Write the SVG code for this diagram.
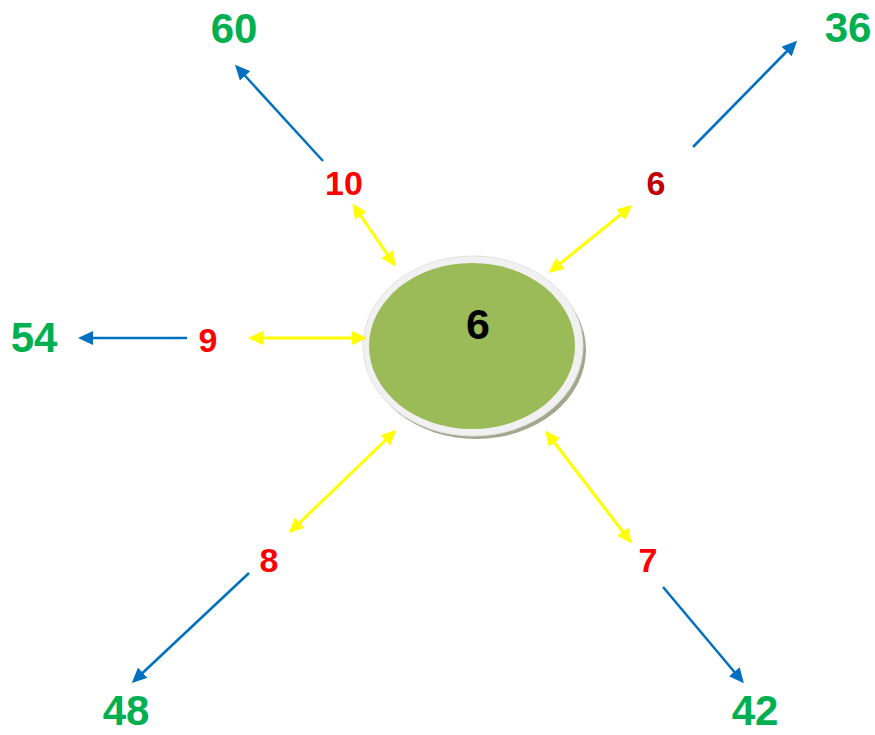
<svg xmlns="http://www.w3.org/2000/svg" width="875" height="735" viewBox="0 0 875 735">
  <style>
    text { font-family: "Liberation Sans", Arial, sans-serif; font-weight: bold; text-anchor: middle; }
    .product { fill: #00b050; font-size: 42px; }
    .factor { fill: #ff0000; font-size: 34px; }
    .factor-dark { fill: #c00000; font-size: 34px; }
    .center { fill: #000000; font-size: 43px; }
    .blue { stroke: #0070c0; stroke-width: 2.5; fill: none; marker-end: url(#blueHead); }
    .yellow { stroke: #ffff00; stroke-width: 3; fill: none; marker-start: url(#yellowHead); marker-end: url(#yellowHead); }
  </style>
  <defs>
    <marker id="blueHead" markerUnits="userSpaceOnUse" markerWidth="16" markerHeight="14" refX="12" refY="7" orient="auto-start-reverse">
      <path d="M0,0 L15,7 L0,14 z" fill="#0070c0"/>
    </marker>
    <marker id="yellowHead" markerUnits="userSpaceOnUse" markerWidth="16" markerHeight="14" refX="12" refY="7" orient="auto-start-reverse">
      <path d="M0,0 L15,7 L0,14 z" fill="#ffff00"/>
    </marker>
  </defs>

  <rect width="875" height="735" fill="#ffffff"/>

  <!-- central disc -->
  <g id="center">
    <ellipse cx="476" cy="350" rx="110" ry="89" fill="#a3a78c"/>
    <ellipse cx="473" cy="346" rx="110" ry="90" fill="#f1f1f1" stroke="#e2e2e2" stroke-width="1"/>
    <ellipse cx="472" cy="346" rx="103" ry="83" fill="#9bbb59"/>
    <text class="center" x="478" y="339">6</text>
  </g>

  <!-- factors around the disc -->
  <g id="factor-10"><text class="factor" x="344" y="195">10</text></g>
  <g id="factor-6"><text class="factor-dark" x="656" y="195">6</text></g>
  <g id="factor-9"><text class="factor" x="208" y="352">9</text></g>
  <g id="factor-8"><text class="factor" x="269" y="572">8</text></g>
  <g id="factor-7"><text class="factor" x="648" y="572">7</text></g>

  <!-- products -->
  <g id="product-60"><text class="product" x="234" y="43">60</text></g>
  <g id="product-36"><text class="product" x="848" y="42">36</text></g>
  <g id="product-54"><text class="product" x="34" y="352">54</text></g>
  <g id="product-48"><text class="product" x="126" y="725">48</text></g>
  <g id="product-42"><text class="product" x="755" y="725">42</text></g>

  <!-- connectors -->
  <g id="connectors">
    <!-- disc to factors -->
    <line class="yellow" x1="354" y1="206" x2="394" y2="264"/>
    <line class="yellow" x1="630" y1="207" x2="551" y2="271"/>
    <line class="yellow" x1="251" y1="338" x2="364" y2="338"/>
    <line class="yellow" x1="394" y1="432" x2="291" y2="531"/>
    <line class="yellow" x1="547" y1="433" x2="630" y2="541"/>
    <!-- factors to products -->
    <line class="blue" x1="323" y1="161" x2="237" y2="67"/>
    <line class="blue" x1="693" y1="147" x2="795" y2="43"/>
    <line class="blue" x1="187" y1="338" x2="81" y2="338"/>
    <line class="blue" x1="249" y1="573" x2="134" y2="681"/>
    <line class="blue" x1="663" y1="587" x2="742" y2="681"/>
  </g>
</svg>
